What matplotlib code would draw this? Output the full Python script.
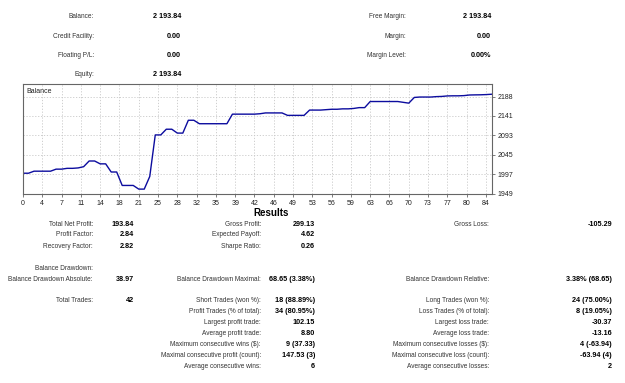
import matplotlib
matplotlib.use("Agg")
import matplotlib.pyplot as plt
import numpy as np

# balance after each deal (index 0 = deposit)
balance = [2000, 2000, 2005, 2005, 2005, 2005, 2010, 2010, 2012, 2012,
           2013, 2016, 2030, 2030, 2023, 2023, 2003, 2003, 1970, 1970,
           1970, 1961, 1961, 1992, 2094, 2094, 2108, 2108, 2098.5, 2098.5,
           2130, 2130, 2121.5, 2121.5, 2121.5, 2121.5, 2121.5, 2121.5, 2145, 2145,
           2145, 2145, 2145, 2146, 2148, 2148, 2148, 2148, 2142, 2142,
           2142, 2142, 2155, 2155, 2155, 2156, 2157, 2157, 2158, 2158,
           2159, 2161, 2161, 2176, 2176, 2176, 2176, 2176, 2176, 2174,
           2172, 2186, 2187, 2187, 2187, 2188, 2188.5, 2189.7, 2190, 2190,
           2190.5, 2192, 2192.3, 2192.5, 2193, 2193.84]
xtick_labels = [0, 4, 7, 11, 14, 18, 21, 25, 28, 32, 35, 39, 42, 46, 49,
                53, 56, 59, 63, 66, 70, 73, 77, 80, 84]
yticks = [1949, 1997, 2045, 2093, 2141, 2188]

top_left = [("Balance:", "2 193.84"), ("Credit Facility:", "0.00"),
            ("Floating P/L:", "0.00"), ("Equity:", "2 193.84")]
top_right = [("Free Margin:", "2 193.84"), ("Margin:", "0.00"),
             ("Margin Level:", "0.00%")]

# results table: (row y, col1, col2, col3)
res_rows = [
    (224, ("Total Net Profit:", "193.84"), ("Gross Profit:", "299.13"), ("Gross Loss:", "-105.29")),
    (235, ("Profit Factor:", "2.84"), ("Expected Payoff:", "4.62"), None),
    (246.5, ("Recovery Factor:", "2.82"), ("Sharpe Ratio:", "0.26"), None),
    (268, ("Balance Drawdown:", ""), None, None),
    (279.5, ("Balance Drawdown Absolute:", "38.97"), ("Balance Drawdown Maximal:", "68.65 (3.38%)"),
     ("Balance Drawdown Relative:", "3.38% (68.65)")),
    (300, ("Total Trades:", "42"), ("Short Trades (won %):", "18 (88.89%)"), ("Long Trades (won %):", "24 (75.00%)")),
    (311.5, None, ("Profit Trades (% of total):", "34 (80.95%)"), ("Loss Trades (% of total):", "8 (19.05%)")),
    (322.5, None, ("Largest profit trade:", "102.15"), ("Largest loss trade:", "-30.37")),
    (333.5, None, ("Average profit trade:", "8.80"), ("Average loss trade:", "-13.16")),
    (344.5, None, ("Maximum consecutive wins ($):", "9 (37.33)"), ("Maximum consecutive losses ($):", "4 (-63.94)")),
    (355.5, None, ("Maximal consecutive profit (count):", "147.53 (3)"), ("Maximal consecutive loss (count):", "-63.94 (4)")),
    (366.5, None, ("Average consecutive wins:", "6"), ("Average consecutive losses:", "2")),
]

W, H = 625, 383
FONT = ["Liberation Sans", "DejaVu Sans"]
FS = 4.7      # labels
FSV = 5.2     # bold values
LABEL_C = "#333333"

fig = plt.figure(figsize=(W / 100, H / 100), dpi=100)
fig.patch.set_facecolor("white")


def put(x, y, s, ha="right", bold=False, color=LABEL_C, size=FS):
    fig.text(x / W, 1 - y / H, s, ha=ha, va="center", fontsize=size,
             family=FONT, color=color, weight="bold" if bold else "normal")


for i, (lab, val) in enumerate(top_left):
    y = 17 + i * 19.3
    put(94, y, lab)
    put(181, y, val, bold=True, color="black", size=FSV)
for i, (lab, val) in enumerate(top_right):
    y = 17 + i * 19.3
    put(406, y, lab)
    put(491, y, val, bold=True, color="black", size=FSV)

# balance chart
ax = fig.add_axes([23 / W, 1 - 194 / H, (492 - 23) / W, (194 - 84) / H])
x = np.arange(len(balance))
ax.plot(x, balance, color="#0c0c9e", linewidth=1.0)
ax.set_xlim(0, 85.1)
ax.set_ylim(1949, 2219)
ax.set_xticks(np.linspace(0, 84, len(xtick_labels)))
ax.set_xticklabels([str(v) for v in xtick_labels])
ax.set_yticks(yticks)
ax.yaxis.tick_right()
ax.tick_params(axis="both", length=2, width=0.6, color="#666666", labelsize=FS + 0.3,
               labelcolor="#222222", pad=2)
for lbl in ax.get_xticklabels() + ax.get_yticklabels():
    lbl.set_family(FONT)
ax.grid(True, linestyle=(0, (1.5, 2)), color="#c8c8c8", linewidth=0.6)
for sp in ax.spines.values():
    sp.set_color("#666666")
    sp.set_linewidth(0.8)
ax.text(0.007, 0.965, "Balance", transform=ax.transAxes, ha="left", va="top",
        fontsize=FS + 0.3, family=FONT, color="#222222")

# results
put(271, 212.5, "Results", ha="center", bold=True, color="black", size=7.0)
cols = [(93, 134), (261, 315), (489, 612)]
for y, *cells in res_rows:
    for (lx, vx), cell in zip(cols, cells):
        if cell is None:
            continue
        put(lx, y, cell[0])
        if cell[1]:
            put(vx, y, cell[1], bold=True, color="black", size=FSV)

fig.savefig("out.png", dpi=100, facecolor="white")
